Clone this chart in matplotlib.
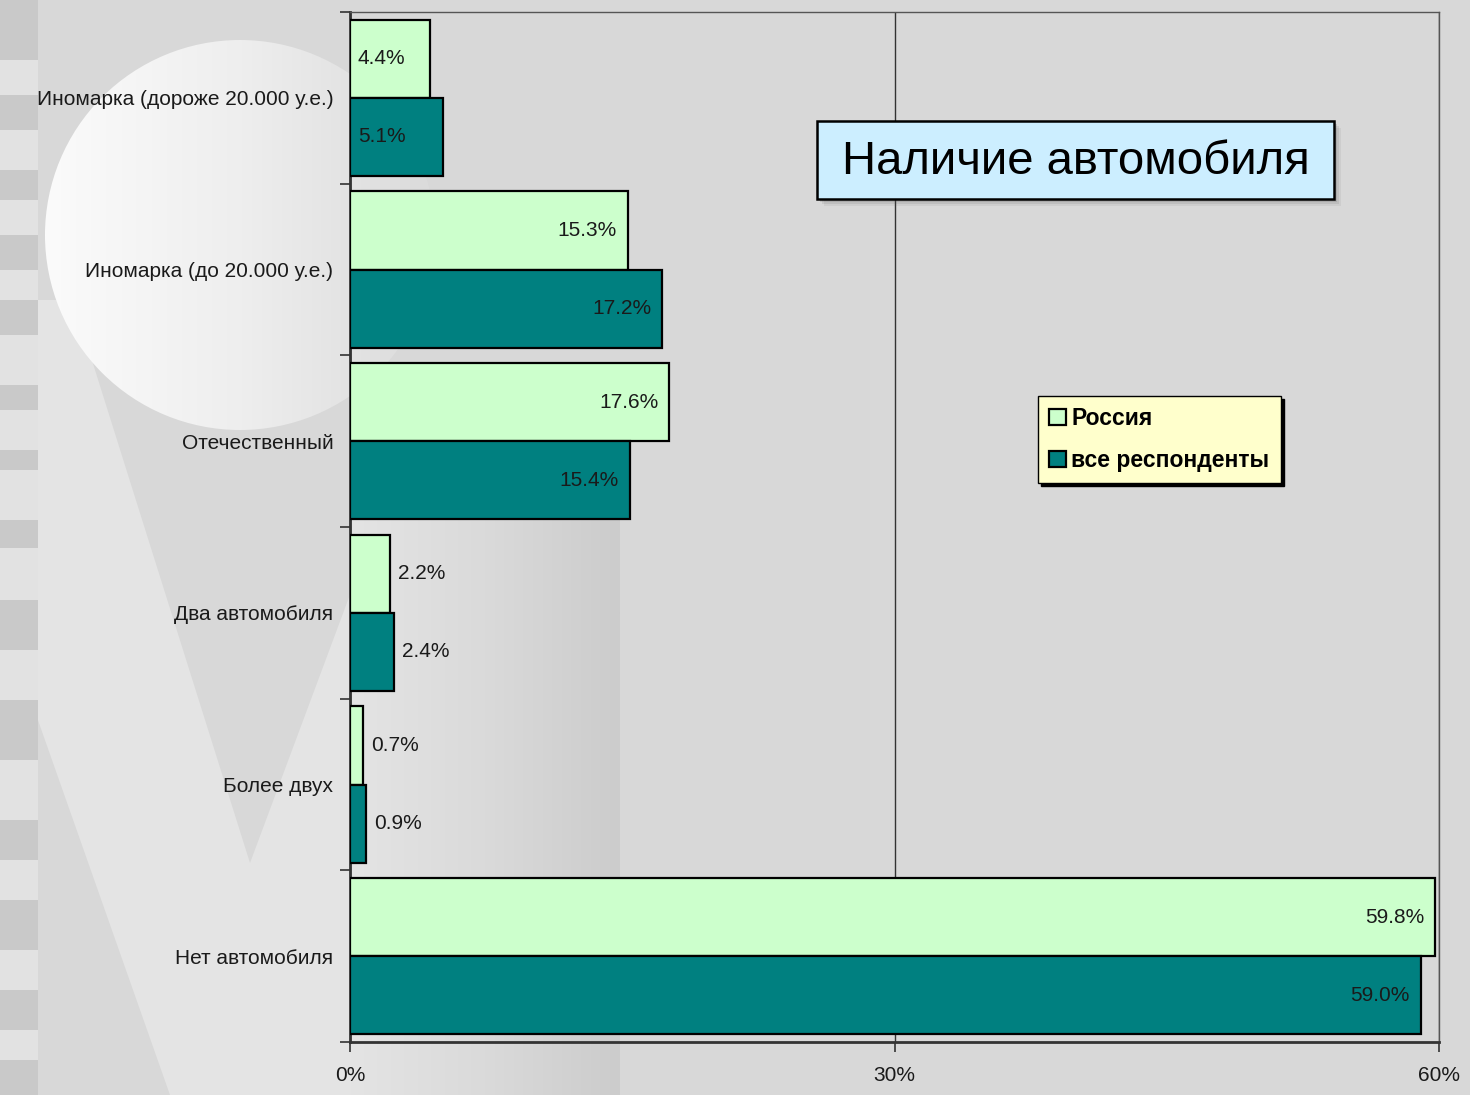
import numpy as np
import matplotlib.pyplot as plt
from matplotlib.patches import Circle, Polygon, Rectangle
from matplotlib.colors import LinearSegmentedColormap

plt.rcParams['font.family'] = ['Liberation Sans', 'DejaVu Sans']

categories = ['Иномарка (дороже 20.000 у.е.)', 'Иномарка (до 20.000 у.е.)', 'Отечественный',
              'Два автомобиля', 'Более двух', 'Нет автомобиля']
russia = [4.4, 15.3, 17.6, 2.2, 0.7, 59.8]
all_resp = [5.1, 17.2, 15.4, 2.4, 0.9, 59.0]
series_names = ['Россия', 'все респонденты']
x_ticks = [0, 30, 60]
x_tick_labels = ['0%', '30%', '60%']
chart_title = 'Наличие автомобиля'

# where each value label sits: inside at the base, inside at the end, or past the end
russia_pos = ['base', 'end', 'end', 'out', 'out', 'end']
resp_pos = ['base', 'end', 'end', 'out', 'out', 'end']

W, H = 1470, 1095
fig = plt.figure(figsize=(W / 100, H / 100), dpi=100)
fig.patch.set_facecolor('#d8d8d8')

# slide background: pale "V", soft circle, stripe on the left
bg = fig.add_axes([0, 0, 1, 1], zorder=-1)
bg.set_xlim(0, W)
bg.set_ylim(H, 0)
bg.axis('off')

bg.add_patch(Polygon([(-110, 300), (73, 300), (250, 863), (348, 600), (420, 400),
                      (600, 380), (620, 420), (620, H), (170, H)],
                     closed=True, fc='#e4e4e4', ec='none', zorder=1))
band = np.linspace(0, 1, 256).reshape(1, -1)
band_cmap = LinearSegmentedColormap.from_list('band', ['#e4e4e4', '#dadada', '#cccccc'])
bg.imshow(band, cmap=band_cmap, extent=(350, 620, H, 390), aspect='auto', zorder=2)

circ_cmap = LinearSegmentedColormap.from_list('circ', ['#fbfbfb', '#eeeeee', '#dadada'])
img = bg.imshow(band, cmap=circ_cmap, extent=(45, 440, 430, 40), aspect='auto', zorder=3)
img.set_clip_path(Circle((240, 235), 195, transform=bg.transData))

bg.add_patch(Rectangle((0, 0), 38, H, fc='#e2e2e2', ec='none', zorder=4))
for y0, y1 in [(0, 60), (95, 130), (170, 200), (235, 270), (300, 335), (385, 410), (450, 470),
               (520, 548), (600, 650), (700, 760), (820, 860), (900, 950), (990, 1030), (1060, H)]:
    bg.add_patch(Rectangle((0, y0), 38, y1 - y0, fc='#c9c9c9', ec='none', zorder=5))

# chart
ax = fig.add_axes([350 / W, 1 - 1042 / H, 1089 / W, 1030 / H])
ax.set_facecolor('none')
n = len(categories)
y = np.arange(n)
h = 0.455
b1 = ax.barh(y - h / 2, russia, height=h, color='#ccffcc', edgecolor='black',
             lw=1.6, label=series_names[0], zorder=3)
b2 = ax.barh(y + h / 2, all_resp, height=h, color='#008080', edgecolor='black',
             lw=1.6, label=series_names[1], zorder=3)

ax.set_xlim(0, 60)
ax.set_ylim(n - 0.5, -0.5)
ax.set_xticks(x_ticks, x_tick_labels)
ax.set_yticks(y, categories)
ax.set_yticks(np.arange(-0.5, n, 1), minor=True)
ax.tick_params(axis='y', which='major', length=0, pad=12, labelsize=15, labelcolor='#1a1a1a')
ax.tick_params(axis='y', which='minor', length=7, width=1.2, color='#333333', direction='out')
ax.tick_params(axis='x', length=7, width=1.2, color='#333333', pad=10, labelsize=15,
               labelcolor='#1a1a1a')
ax.xaxis.grid(True, color='#333333', lw=1)
ax.set_axisbelow(True)
for side in ['left', 'bottom']:
    ax.spines[side].set_color('#333333')
    ax.spines[side].set_linewidth(2)
for side in ['top', 'right']:
    ax.spines[side].set_color('#555555')
    ax.spines[side].set_linewidth(1)

for bars, vals, pos in [(b1, russia, russia_pos), (b2, all_resp, resp_pos)]:
    for bar, v, p in zip(bars, vals, pos):
        yc = bar.get_y() + bar.get_height() / 2
        if p == 'end':
            x, ha, dx = v, 'right', -11
        elif p == 'base':
            x, ha, dx = 0, 'left', 8
        else:
            x, ha, dx = v, 'left', 8
        ax.annotate(f'{v:.1f}%', (x, yc), xytext=(dx, 0), textcoords='offset pixels',
                    ha=ha, va='center', fontsize=15, color='#1a1a1a', zorder=4)

ax.legend(loc='upper left', bbox_to_anchor=(1038 / W, 1 - 396 / H),
          bbox_transform=fig.transFigure, fancybox=False, edgecolor='black',
          facecolor='#ffffcc', framealpha=1, shadow={'color': 'black', 'alpha': 1},
          handlelength=0.7, handleheight=0.7, handletextpad=0.25, borderpad=0.5,
          labelspacing=0.8, borderaxespad=0, prop={'size': 16.5, 'weight': 'bold'})

# title box on top of everything
ov = fig.add_axes([0, 0, 1, 1], zorder=5)
ov.set_xlim(0, W)
ov.set_ylim(H, 0)
ov.axis('off')
for k, a in [(9, 0.08), (7, 0.12), (5, 0.18)]:
    ov.add_patch(Rectangle((817 + k - 2, 121 + k - 2), 517, 78, fc='#555555', ec='none', alpha=a))
ov.add_patch(Rectangle((817, 121), 517, 78, fc='#cceeff', ec='black', lw=1.8))
ov.text(817 + 517 / 2, 162, chart_title, ha='center', va='center', fontsize=34, color='black')

fig.savefig('out.png', dpi=100, facecolor=fig.get_facecolor())
